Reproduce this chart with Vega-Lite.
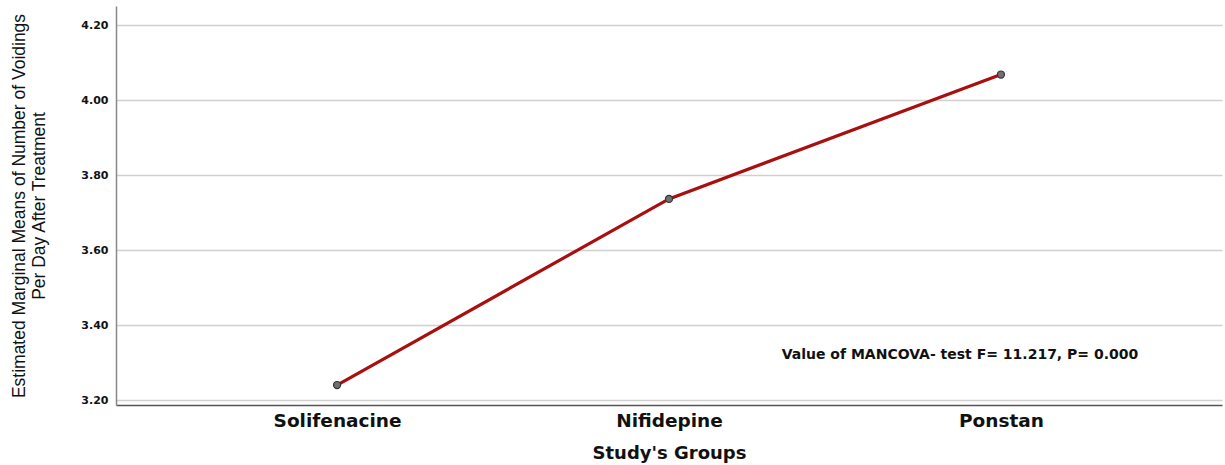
{
  "$schema": "https://vega.github.io/schema/vega-lite/v6.json",
  "autosize": "none",
  "width": 1106,
  "height": 399,
  "padding": {"left": 116, "top": 6, "right": 3, "bottom": 60},
  "background": "white",
  "config": {
    "view": {"stroke": null},
    "axis": {"domainColor": "#777777", "gridColor": "#d0d0d0", "gridWidth": 1.5}
  },
  "datasets": {
    "means": [
      {"group": "Solifenacine", "mean": 3.24},
      {"group": "Nifidepine", "mean": 3.737},
      {"group": "Ponstan", "mean": 4.069}
    ],
    "note": [
      {"group": "Ponstan", "mean": 3.32, "label": "Value of MANCOVA- test F= 11.217, P= 0.000"}
    ]
  },
  "layer": [
    {
      "data": {"name": "means"},
      "mark": {"type": "line", "color": "#a80f0f", "strokeWidth": 3.2},
      "encoding": {
        "x": {
          "field": "group", "type": "nominal", "sort": null,
          "scale": {"type": "point", "padding": 0.666},
          "axis": {
            "title": "Study's Groups", "labelAngle": 0, "ticks": false,
            "labelFont": "DejaVu Sans", "labelFontWeight": "bold", "labelFontSize": 18.5, "labelColor": "#111111",
            "labelPadding": 6, "domainColor": "#555555", "domainWidth": 1.5,
            "titleFont": "DejaVu Sans", "titleFontWeight": "bold", "titleFontSize": 18, "titleColor": "#111111",
            "titlePadding": 15, "grid": false
          }
        },
        "y": {
          "field": "mean", "type": "quantitative",
          "scale": {"domain": [3.1867, 4.252], "nice": false, "zero": false},
          "axis": {
            "title": ["Estimated Marginal Means of Number of Voidings", "Per Day After Treatment"],
            "values": [3.2, 3.4, 3.6, 3.8, 4.0, 4.2], "format": ".2f",
            "ticks": false, "labelPadding": 8,
            "labelFont": "DejaVu Sans", "labelFontWeight": "bold", "labelFontSize": 11, "labelColor": "#111111",
            "titleFont": "Liberation Sans Narrow, Liberation Sans", "titleFontWeight": "normal", "titleFontSize": 17.5,
            "titleColor": "#111111", "titleLineHeight": 20, "titlePadding": 32,
            "domainColor": "#888888", "domainWidth": 1.5, "grid": true
          }
        }
      }
    },
    {
      "data": {"name": "means"},
      "mark": {"type": "point", "filled": true, "fill": "#707070", "stroke": "#333333", "strokeWidth": 1.2, "size": 50, "opacity": 1},
      "encoding": {
        "x": {"field": "group", "type": "nominal", "sort": null},
        "y": {"field": "mean", "type": "quantitative"}
      }
    },
    {
      "data": {"name": "note"},
      "mark": {"type": "text", "font": "DejaVu Sans", "fontWeight": "bold", "fontSize": 14, "color": "#111111", "align": "center", "dx": -41},
      "encoding": {
        "x": {"field": "group", "type": "nominal", "sort": null},
        "y": {"field": "mean", "type": "quantitative"},
        "text": {"field": "label"}
      }
    }
  ]
}
